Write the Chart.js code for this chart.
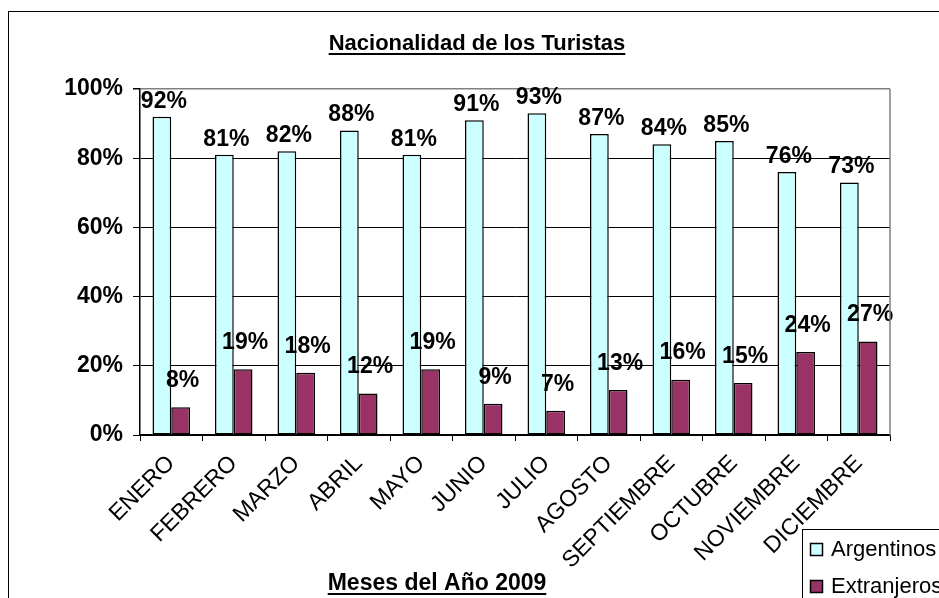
<!DOCTYPE html>
<html>
<head>
<meta charset="utf-8">
<title>Nacionalidad de los Turistas</title>
<script src="https://cdn.jsdelivr.net/npm/chart.js@4"></script>
<style>
  body { margin: 0; background: #fff; }
  canvas { display: block; }
</style>
</head>
<body>
<canvas id="graph1" width="939" height="598"></canvas>
<script>
const meses = ["ENERO", "FEBRERO", "MARZO", "ABRIL", "MAYO", "JUNIO", "JULIO",
  "AGOSTO", "SEPTIEMBRE", "OCTUBRE", "NOVIEMBRE", "DICIEMBRE"];
const argentinos = [92, 81, 82, 88, 81, 91, 93, 87, 84, 85, 76, 73];
const extranjeros = [8, 19, 18, 12, 19, 9, 7, 13, 16, 15, 24, 27];
const yTicks = [0, 20, 40, 60, 80, 100];

const FONT = 'Arial, "Liberation Sans", sans-serif';

// draws text with an underline (excel style titles)
function underlined(ctx, text, x, y, size) {
  ctx.font = "bold " + size + "px " + FONT;
  ctx.textAlign = "center";
  ctx.textBaseline = "alphabetic";
  ctx.fillStyle = "#000";
  ctx.fillText(text, x, y);
  const w = ctx.measureText(text).width;
  ctx.fillRect(x - w / 2, y + 3, w, 2);
}

const decoPlugin = {
  id: "deco",
  beforeDraw(chart) {
    const ctx = chart.ctx;
    ctx.save();
    ctx.fillStyle = "#fff";
    ctx.fillRect(0, 0, chart.width, chart.height);
    // outer chart frame (cropped on right and bottom)
    ctx.strokeStyle = "#000";
    ctx.lineWidth = 1;
    ctx.strokeRect(8.5, 11.5, 1000, 1000);
    ctx.restore();
  },
  afterDraw(chart) {
    const ctx = chart.ctx;
    const area = chart.chartArea;
    ctx.save();
    // right border of plot area
    ctx.strokeStyle = "#808080";
    ctx.lineWidth = 1.5;
    ctx.beginPath();
    ctx.moveTo(area.right, area.top);
    ctx.lineTo(area.right, area.bottom);
    ctx.stroke();

    underlined(ctx, "Nacionalidad de los Turistas", 477, 50, 22);
    underlined(ctx, "Meses del Año 2009", 437, 590, 23);

    // legend box
    ctx.strokeStyle = "#000";
    ctx.lineWidth = 1;
    ctx.fillStyle = "#fff";
    ctx.fillRect(802.5, 529.5, 200, 100);
    ctx.strokeRect(802.5, 529.5, 200, 100);
    ctx.font = "22px " + FONT;
    ctx.textAlign = "left";
    ctx.textBaseline = "alphabetic";
    chart.data.datasets.forEach((ds, i) => {
      const top = 543 + i * 37;
      ctx.fillStyle = ds.backgroundColor;
      ctx.fillRect(810.5, top + 0.5, 12, 12);
      ctx.strokeStyle = "#000";
      ctx.lineWidth = 1.5;
      ctx.strokeRect(810.5, top + 0.5, 12, 12);
      ctx.fillStyle = "#000";
      ctx.fillText(ds.label, 831, top + 13);
    });
    ctx.restore();
  },
  afterDatasetsDraw(chart) {
    // value labels over the bars
    const ctx = chart.ctx;
    ctx.save();
    ctx.font = "bold 23px " + FONT;
    ctx.fillStyle = "#000";
    ctx.textAlign = "center";
    ctx.textBaseline = "bottom";
    chart.data.datasets.forEach((ds, i) => {
      const meta = chart.getDatasetMeta(i);
      meta.data.forEach((bar, j) => {
        ctx.fillText(ds.data[j] + "%", bar.x + 2, bar.y - ds.labelLift + 4);
      });
    });
    ctx.restore();
  },
};

new Chart(document.getElementById("graph1"), {
  type: "bar",
  data: {
    labels: meses,
    datasets: [
      {
        label: "Argentinos",
        data: argentinos,
        backgroundColor: "#CCFFFF",
        borderColor: "#000",
        borderWidth: 1.5,
        borderSkipped: false,
        labelLift: 8,
      },
      {
        label: "Extranjeros",
        data: extranjeros,
        backgroundColor: "#993366",
        borderColor: "#000",
        borderWidth: 1.5,
        borderSkipped: false,
        labelLift: 19,
      },
    ],
  },
  options: {
    responsive: false,
    animation: false,
    events: [],
    layout: { padding: { top: 89, right: 49, left: 0, bottom: 0 } },
    datasets: { bar: { categoryPercentage: 0.6, barPercentage: 1.0 } },
    plugins: { legend: { display: false }, title: { display: false }, tooltip: { enabled: false } },
    scales: {
      x: {
        afterFit(scale) { scale.height = 163; },
        grid: {
          offset: true,
          drawOnChartArea: false,
          drawTicks: true,
          tickLength: 6,
          color: "#000",
        },
        border: { color: "#000", width: 1.5 },
        ticks: {
          minRotation: 45,
          maxRotation: 45,
          autoSkip: false,
          padding: 9,
          color: "#000",
          font: { family: FONT, size: 23 },
        },
      },
      y: {
        min: 0,
        max: 100,
        afterFit(scale) { scale.width = 140; },
        afterBuildTicks(scale) { scale.ticks = yTicks.map((v) => ({ value: v })); },
        grid: {
          color: (c) => (c.tick && c.tick.value === 100 ? "#808080" : "#000"),
          tickColor: "#000",
          lineWidth: (c) => (c.tick && c.tick.value === 100 ? 1.5 : 1),
          tickLength: 7,
        },
        border: { color: "#000", width: 1.5 },
        ticks: {
          padding: 10,
          color: "#000",
          font: { family: FONT, size: 23, weight: "bold" },
          callback: (v) => v + "%",
        },
      },
    },
  },
  plugins: [decoPlugin],
});
</script>
</body>
</html>
